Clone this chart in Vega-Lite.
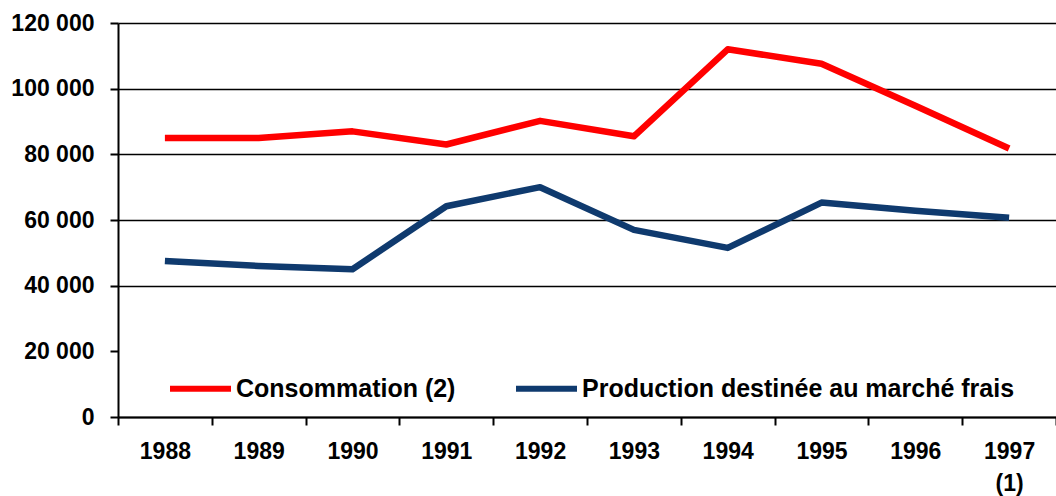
{
  "$schema": "https://vega.github.io/schema/vega-lite/v6.json",
  "autosize": {"type": "none"},
  "width": 938,
  "height": 394,
  "padding": {"left": 118, "top": 23, "right": 0, "bottom": 79},
  "background": "white",
  "config": {
    "view": {"stroke": null},
    "font": "Liberation Sans"
  },
  "data": {
    "values": [
      {"annee": "1988", "serie": "Consommation (2)", "valeur": 85000},
      {"annee": "1989", "serie": "Consommation (2)", "valeur": 85000},
      {"annee": "1990", "serie": "Consommation (2)", "valeur": 87000},
      {"annee": "1991", "serie": "Consommation (2)", "valeur": 83000},
      {"annee": "1992", "serie": "Consommation (2)", "valeur": 90200},
      {"annee": "1993", "serie": "Consommation (2)", "valeur": 85500},
      {"annee": "1994", "serie": "Consommation (2)", "valeur": 112000},
      {"annee": "1995", "serie": "Consommation (2)", "valeur": 107600},
      {"annee": "1996", "serie": "Consommation (2)", "valeur": 94800},
      {"annee": "1997", "serie": "Consommation (2)", "valeur": 81800},
      {"annee": "1988", "serie": "Production destinée au marché frais", "valeur": 47500},
      {"annee": "1989", "serie": "Production destinée au marché frais", "valeur": 46000},
      {"annee": "1990", "serie": "Production destinée au marché frais", "valeur": 45000},
      {"annee": "1991", "serie": "Production destinée au marché frais", "valeur": 64200},
      {"annee": "1992", "serie": "Production destinée au marché frais", "valeur": 70000},
      {"annee": "1993", "serie": "Production destinée au marché frais", "valeur": 57000},
      {"annee": "1994", "serie": "Production destinée au marché frais", "valeur": 51500},
      {"annee": "1995", "serie": "Production destinée au marché frais", "valeur": 65300},
      {"annee": "1996", "serie": "Production destinée au marché frais", "valeur": 62800},
      {"annee": "1997", "serie": "Production destinée au marché frais", "valeur": 60700}
    ]
  },
  "mark": {"type": "line", "strokeWidth": 6.5, "strokeJoin": "round", "strokeCap": "butt"},
  "encoding": {
    "x": {
      "field": "annee",
      "type": "ordinal",
      "scale": {"paddingInner": 0, "paddingOuter": 0},
      "axis": {
        "title": null,
        "labelAngle": 0,
        "labelFont": "Liberation Sans",
        "labelFontSize": 23,
        "labelFontWeight": "bold",
        "labelColor": "black",
        "labelPadding": 15,
        "labelLineHeight": 32,
        "labelBaseline": "top",
        "labelExpr": "datum.value == '1997' ? ['1997', '(1)'] : datum.label",
        "tickBand": "extent",
        "tickSize": 8,
        "tickColor": "black",
        "tickWidth": 2,
        "domainColor": "black",
        "domainWidth": 2,
        "grid": false
      }
    },
    "y": {
      "field": "valeur",
      "type": "quantitative",
      "scale": {"domain": [0, 120000], "nice": false, "zero": true},
      "axis": {
        "title": null,
        "values": [0, 20000, 40000, 60000, 80000, 100000, 120000],
        "labelExpr": "replace(format(datum.value, ','), regexp(',', 'g'), ' ')",
        "labelFont": "Liberation Sans",
        "labelFontSize": 23,
        "labelFontWeight": "bold",
        "labelColor": "black",
        "labelPadding": 16,
        "tickSize": 8,
        "tickColor": "black",
        "tickWidth": 2,
        "domainColor": "black",
        "domainWidth": 2,
        "grid": true,
        "gridColor": "black",
        "gridWidth": 1.6,
        "gridOpacity": {"condition": {"test": "datum.value === 20000", "value": 0}, "value": 1}
      }
    },
    "color": {
      "field": "serie",
      "type": "nominal",
      "scale": {
        "domain": ["Consommation (2)", "Production destinée au marché frais"],
        "range": ["#ff0000", "#0f3a6e"]
      },
      "legend": {
        "title": null,
        "orient": "none",
        "direction": "horizontal",
        "legendX": 49,
        "legendY": 332,
        "padding": 0,
        "symbolType": "stroke",
        "symbolSize": 3721,
        "symbolStrokeWidth": 6,
        "labelFont": "Liberation Sans",
        "labelFontSize": 25,
        "labelFontWeight": "bold",
        "labelColor": "black",
        "labelOffset": 2,
        "labelLimit": 1000,
        "columnPadding": 48
      }
    }
  }
}
